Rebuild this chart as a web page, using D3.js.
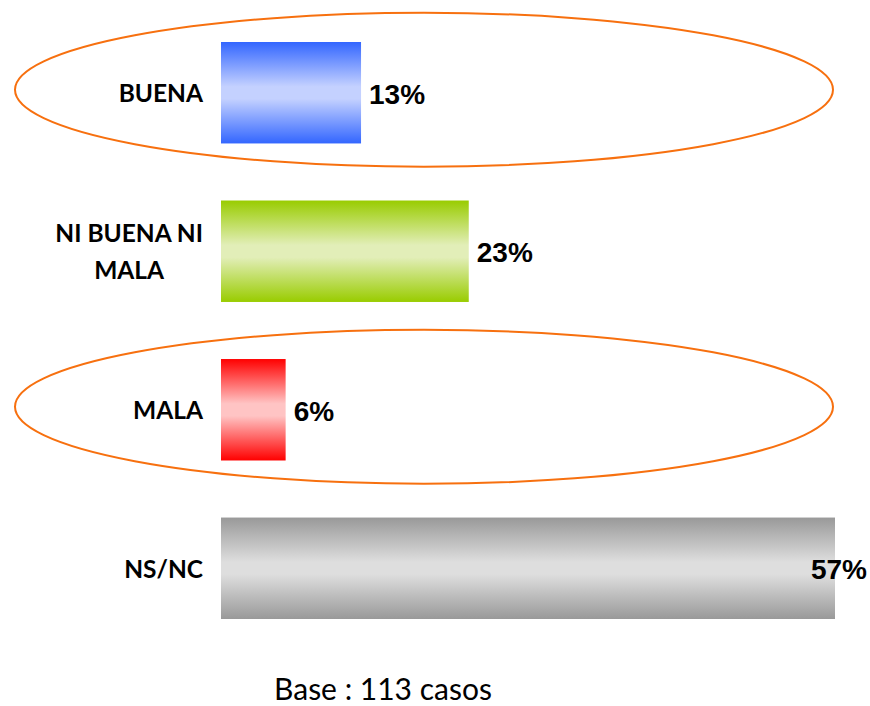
<!DOCTYPE html>
<html lang="es">
<head>
<meta charset="UTF-8">
<title>Valoración</title>
<script src="https://d3js.org/d3.v7.min.js"></script>
<style>
  body { margin: 0; background: #fff; }
</style>
</head>
<body>
<svg id="chart" width="870" height="706"></svg>
<script>
// data
const categories = ["BUENA", "NI BUENA NI MALA", "MALA", "NS/NC"];
const labelLines = [["BUENA"], ["NI BUENA NI", "MALA"], ["MALA"], ["NS/NC"]];
const values = [13, 23, 6, 57];
const circled = ["BUENA", "MALA"];
const baseText = "Base : 113 casos";

// colours: [edge, middle]
const barColors = [["#3366ff", "#c4d1ff"], ["#99cc00", "#e2eeb8"], ["#ff0000", "#ffc4c4"], ["#999999", "#dedede"]];

const svg = d3.select("#chart");
const defs = svg.append("defs");

const x = d3.scaleLinear().domain([0, 57]).range([221, 835]);
const y = d3.scaleBand().domain(categories).range([42, 619]).paddingInner(0.36).paddingOuter(0);

// gradients
barColors.forEach((c, i) => {
    const g = defs.append("linearGradient")
        .attr("id", "grad" + i)
        .attr("x1", 0).attr("y1", 0).attr("x2", 0).attr("y2", 1);
    g.append("stop").attr("offset", "0%").attr("stop-color", c[0]);
    g.append("stop").attr("offset", "44%").attr("stop-color", c[1]);
    g.append("stop").attr("offset", "56%").attr("stop-color", c[1]);
    g.append("stop").attr("offset", "100%").attr("stop-color", c[0]);
});

// ellipses round the highlighted rows
svg.selectAll("ellipse.hl")
    .data(circled)
    .join("ellipse")
    .attr("class", "hl")
    .attr("cx", 424)
    .attr("cy", d => y(d) + y.bandwidth() / 2 - 3)
    .attr("rx", 409)
    .attr("ry", 77)
    .attr("fill", "none")
    .attr("stroke", "#f7700f")
    .attr("stroke-width", 2);

// bars
svg.selectAll("rect.bar")
    .data(categories)
    .join("rect")
    .attr("class", "bar")
    .attr("x", x(0))
    .attr("y", d => y(d))
    .attr("width", (d, i) => x(values[i]) - x(0))
    .attr("height", y.bandwidth())
    .attr("fill", (d, i) => `url(#grad${i})`);

// category labels (block right aligned, lines centred)
const labelRight = 203;
categories.forEach((cat, i) => {
    const cy = y(cat) + y.bandwidth() / 2;
    const lines = labelLines[i];
    const t = svg.append("text")
        .style("font-family", "Lato, 'Open Sans', sans-serif")
        .style("font-weight", "bold")
        .style("font-size", "24.5px")
        .attr("fill", "#000")
        .attr("text-anchor", "middle");
    const spans = lines.map((l, j) => t.append("tspan").text(l));
    const w = d3.max(spans, s => s.node().getComputedTextLength());
    const lh = 37;
    const first = cy + 9.5 - (lines.length - 1) * lh / 2;
    spans.forEach((s, j) => s.attr("x", labelRight - w / 2).attr("y", first + j * lh));
});

// value labels
const rightLimit = 867;
svg.selectAll("text.val")
    .data(categories)
    .join("text")
    .attr("class", "val")
    .style("font-family", "'Liberation Sans', Arial, sans-serif")
    .style("font-weight", "bold")
    .style("font-size", "28px")
    .attr("fill", "#000")
    .attr("y", d => y(d) + y.bandwidth() / 2 + 11)
    .text((d, i) => values[i] + "%")
    .attr("x", function(d, i) {
        const w = this.getComputedTextLength();
        return Math.min(x(values[i]) + 8, rightLimit - w);
    });

// footer
svg.append("text")
    .attr("x", 383)
    .attr("y", 700)
    .attr("text-anchor", "middle")
    .style("font-family", "Lato, 'Open Sans', sans-serif")
    .style("font-size", "30px")
    .attr("fill", "#000")
    .text(baseText);
</script>
</body>
</html>
